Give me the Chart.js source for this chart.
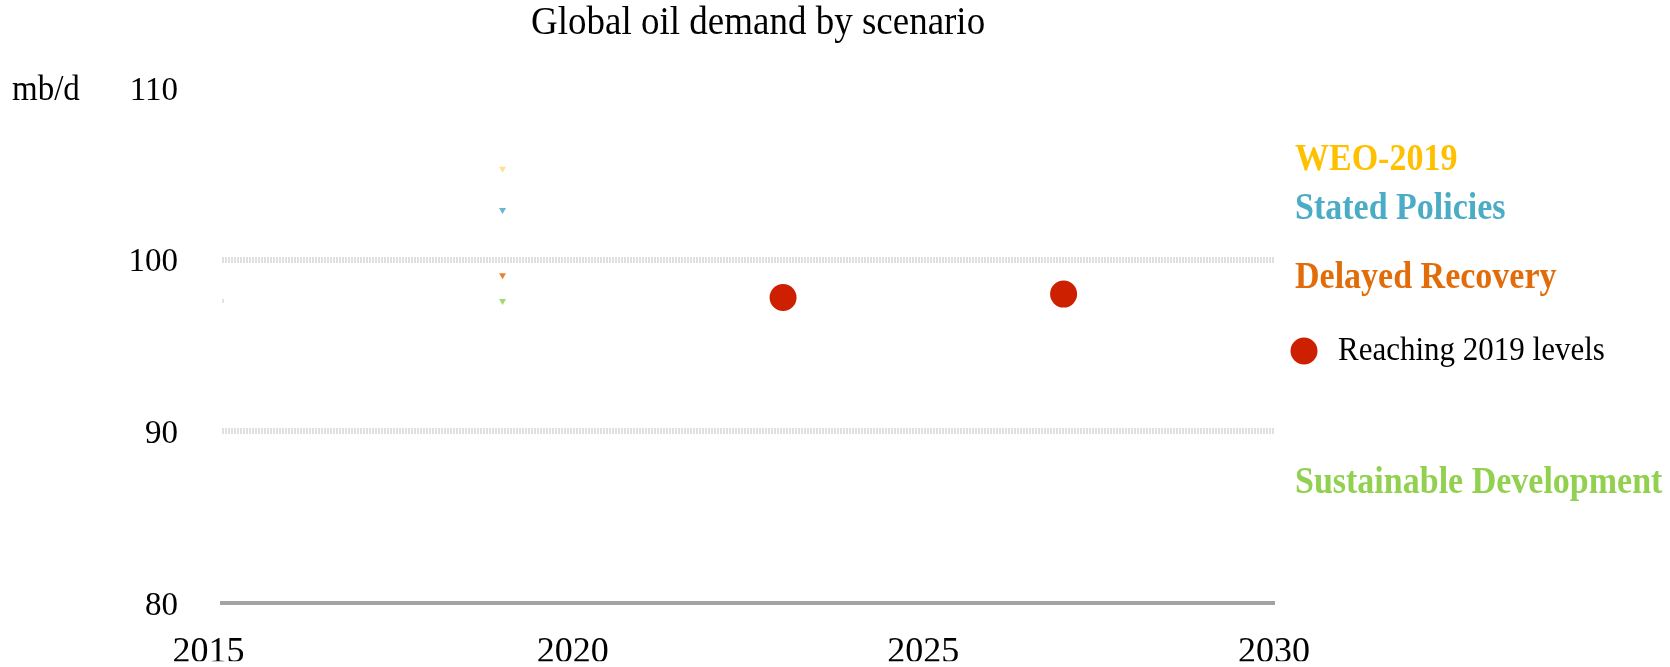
<!DOCTYPE html>
<html>
<head>
<meta charset="utf-8">
<title>Global oil demand by scenario</title>
<script src="https://cdn.jsdelivr.net/npm/chart.js"></script>
<style>
  body { margin: 0; background: #fff; }
  #oil-chart { display: block; }
</style>
</head>
<body>
<canvas id="oil-chart" width="1670" height="667"></canvas>
<script>
// axis ranges
var xTicks = [2015, 2020, 2025, 2030];
var yTicks = [80, 90, 100, 110];

// scenario values at the 2019 marker
var scenarioYear = [2019];
var weoValues = [105.3];
var statedValues = [102.9];
var delayedValues = [99.1];
var sustainableValues = [97.6];

// history start
var historyYear = [2015];
var historyValues = [97.6];

// years when demand gets back to 2019 levels
var reachYears = [2023, 2027];
var reachValues = [97.8, 98.0];

var serif = '"Liberation Serif", "Times New Roman", serif';
Chart.defaults.font.family = serif;
Chart.defaults.color = '#000';

function pts(xs, ys) {
  return ys.map(function (v, i) { return {x: xs[i], y: v}; });
}

function marker(label, xs, ys, color) {
  return {
    label: label,
    data: pts(xs, ys),
    showLine: false,
    pointStyle: 'triangle',
    rotation: 180,
    pointRadius: 4,
    backgroundColor: color,
    borderColor: color,
    borderWidth: 0
  };
}

// slightly tall serif text, like the rest of the figure
function tallText(ctx, txt, x, y) {
  ctx.save();
  ctx.translate(x, y);
  ctx.scale(1, 1.1);
  ctx.fillText(txt, 0, 0);
  ctx.restore();
}

// title, unit and the side labels
var sideLabels = {
  id: 'sideLabels',
  afterDraw: function (chart) {
    var ctx = chart.ctx;
    ctx.save();
    ctx.textAlign = 'left';
    ctx.textBaseline = 'alphabetic';

    ctx.fillStyle = '#000';
    ctx.font = '37px ' + serif;
    tallText(ctx, 'Global oil demand by scenario', 531, 34);
    ctx.font = '33px ' + serif;
    tallText(ctx, 'mb/d', 12, 100);

    ctx.font = 'bold 34px ' + serif;
    ctx.fillStyle = '#ffc000';
    tallText(ctx, 'WEO-2019', 1295, 170);
    ctx.fillStyle = '#4bacc6';
    tallText(ctx, 'Stated Policies', 1295, 219);
    ctx.fillStyle = '#e36c0a';
    tallText(ctx, 'Delayed Recovery', 1295, 288);
    ctx.fillStyle = '#92d050';
    tallText(ctx, 'Sustainable Development', 1295, 493);

    ctx.fillStyle = '#cc2000';
    ctx.beginPath();
    ctx.arc(1304, 351, 13.5, 0, Math.PI * 2);
    ctx.fill();
    ctx.fillStyle = '#000';
    ctx.font = '31px ' + serif;
    tallText(ctx, 'Reaching 2019 levels', 1338, 360);
    ctx.restore();
  }
};

new Chart(document.getElementById('oil-chart'), {
  type: 'scatter',
  data: {
    datasets: [
      {
        label: 'History',
        data: pts(historyYear, historyValues),
        pointStyle: 'rect',
        pointRadius: 2,
        backgroundColor: 'rgba(0,0,0,0.08)',
        borderColor: 'rgba(0,0,0,0.12)',
        borderWidth: 1
      },
      marker('WEO-2019', scenarioYear, weoValues, 'rgba(255,192,0,0.45)'),
      marker('Stated Policies', scenarioYear, statedValues, 'rgba(75,172,198,0.85)'),
      marker('Delayed Recovery', scenarioYear, delayedValues, 'rgba(227,108,10,0.85)'),
      marker('Sustainable Development', scenarioYear, sustainableValues, 'rgba(146,208,80,0.85)'),
      {
        label: 'Reaching 2019 levels',
        data: pts(reachYears, reachValues),
        pointStyle: 'circle',
        pointRadius: 13.5,
        pointHoverRadius: 13.5,
        backgroundColor: '#cc2000',
        borderColor: '#cc2000',
        borderWidth: 0
      }
    ]
  },
  plugins: [sideLabels],
  options: {
    responsive: false,
    animation: false,
    layout: { padding: { top: 88, right: 396, left: 0, bottom: 0 } },
    plugins: {
      legend: { display: false },
      title: { display: false },
      tooltip: { enabled: false }
    },
    scales: {
      x: {
        type: 'linear',
        min: xTicks[0],
        max: xTicks[xTicks.length - 1],
        afterFit: function (scale) { scale.height = 58; },
        afterBuildTicks: function (scale) {
          scale.ticks = xTicks.map(function (v) { return {value: v}; });
        },
        ticks: {
          padding: 28,
          font: { size: 36 },
          color: '#000',
          maxRotation: 0,
          // first year label sits a little left of its tick
          callback: function (v) { return v === xTicks[0] ? String(v) + '   ' : String(v); }
        },
        grid: { display: false, drawTicks: false },
        border: { display: true, color: '#a3a3a3', width: 4 }
      },
      y: {
        min: yTicks[0],
        max: yTicks[yTicks.length - 1],
        afterFit: function (scale) { scale.width = 222; },
        afterBuildTicks: function (scale) {
          scale.ticks = yTicks.map(function (v) { return {value: v}; });
        },
        ticks: {
          padding: 44,
          labelOffset: 3,
          font: { size: 33 },
          color: '#000'
        },
        grid: {
          drawTicks: false,
          lineWidth: 6,
          color: function (c) {
            var v = c.tick && c.tick.value;
            return (v === 90 || v === 100) ? 'rgba(0,0,0,0.12)' : 'rgba(0,0,0,0)';
          }
        },
        border: { display: false, dash: [2, 1] }
      }
    }
  }
});
</script>
</body>
</html>
